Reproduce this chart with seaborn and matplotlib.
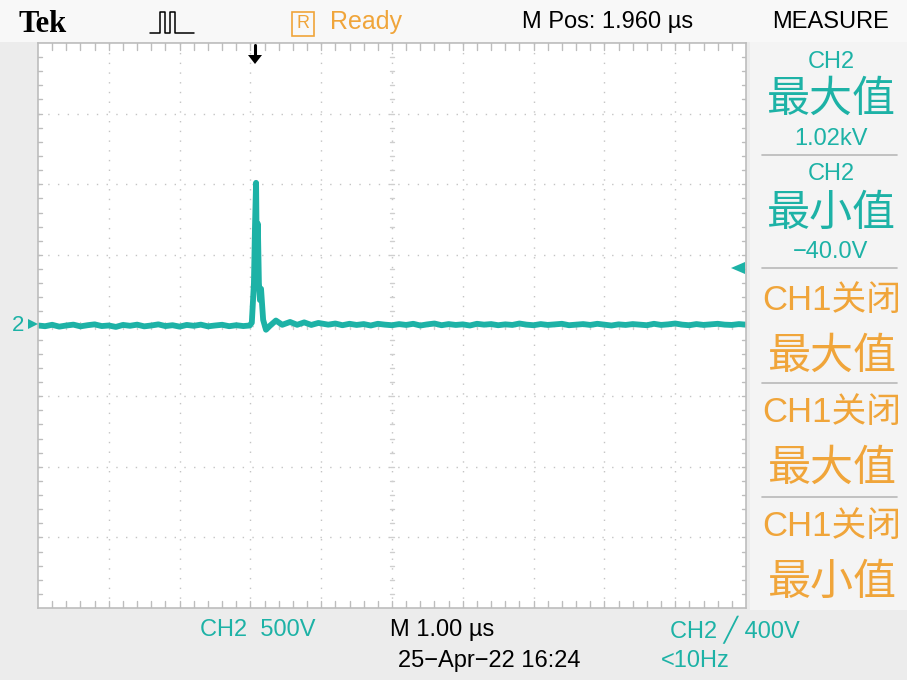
import numpy as np
import pandas as pd
import matplotlib
matplotlib.use("Agg")
import matplotlib.pyplot as plt
import seaborn as sns
from matplotlib.lines import Line2D
from matplotlib.patches import Rectangle, Polygon

# ---- data (CH2, 500 V/div, 1 us/div) ----
t_pre = [0.0, 0.1, 0.2, 0.3, 0.4, 0.5, 0.6, 0.7, 0.8, 0.9, 1.0, 1.1, 1.2, 1.3, 1.4,
         1.5, 1.6, 1.7, 1.8, 1.9, 2.0, 2.1, 2.2, 2.3, 2.4, 2.5, 2.6, 2.7, 2.8, 2.9, 2.99]
v_pre = [0, -5, 5, -8, 0, 6, -6, 2, 8, -4, 0, -10, 4, -2, 6, -6, 0, 8, -4, 2,
         -8, 4, -2, 6, -6, 0, 5, -5, 2, -4, 0]

t_spike = [3.02, 3.05, 3.065, 3.08, 3.09, 3.105, 3.12, 3.135, 3.15, 3.18, 3.22,
           3.28, 3.36, 3.45, 3.56, 3.66, 3.76, 3.86, 3.96]
v_spike = [20, 300, 700, 1010, 500, 720, 300, 180, 260, 40, -30,
           0, 35, 5, 25, 5, 22, 4, 18]

t_post = [4.1, 4.2, 4.3, 4.4, 4.5, 4.6, 4.7, 4.8, 4.9, 5.0, 5.1, 5.2, 5.3, 5.4, 5.5,
          5.6, 5.7, 5.8, 5.9, 6.0, 6.1, 6.2, 6.3, 6.4, 6.5, 6.6, 6.7, 6.8, 6.9, 7.0,
          7.1, 7.2, 7.3, 7.4, 7.5, 7.6, 7.7, 7.8, 7.9, 8.0, 8.1, 8.2, 8.3, 8.4, 8.5,
          8.6, 8.7, 8.8, 8.9, 9.0, 9.1, 9.2, 9.3, 9.4, 9.5, 9.6, 9.7, 9.8, 9.9, 10.0]
v_post = [6, 14, 2, 12, 4, 10, 0, 12, 6, 2, 10, 4, 12, 0, 8, 14, 2, 10, 4, 8,
          0, 12, 6, 10, 2, 8, 4, 14, 6, 2, 10, 4, 8, 12, 2, 6, 10, 4, 12, 6,
          0, 8, 4, 10, 6, 2, 12, 4, 8, 14, 6, 2, 10, 4, 8, 12, 6, 4, 10, 6]

df = pd.DataFrame({"t": t_pre + t_spike + t_post, "v": v_pre + v_spike + v_post})

CYAN = "#1DB2A6"
ORANGE = "#F0A53A"
W, H = 907, 680

sns.set_style("white")
plt.rcParams["font.family"] = ["Liberation Sans", "DejaVu Sans"]

fig = plt.figure(figsize=(W / 100, H / 100), dpi=100)
fig.patch.set_facecolor("#ECECEC")

def fx(x):
    return x / W

def fy(y):
    return 1 - y / H

# background bands
fig.patches.append(Rectangle((0, fy(42)), 1, 42 / H, transform=fig.transFigure,
                             facecolor="#F8F8F8", edgecolor="none", zorder=0))
fig.patches.append(Rectangle((fx(750), fy(610)), 157 / W, 568 / H, transform=fig.transFigure,
                             facecolor="#F4F4F4", edgecolor="none", zorder=0))

# screen axes: 10 x 8 divisions
ax = fig.add_axes([fx(38), fy(608), 708 / W, 565 / H])
ax.set_facecolor("white")
sns.lineplot(data=df, x="t", y="v", ax=ax, color=CYAN, lw=4.2, estimator=None, sort=False)
ax.set_xlim(0, 10)
ax.set_ylim(-2000, 2000)
ax.set_xlabel("")
ax.set_ylabel("")
ax.set_xticks([])
ax.set_yticks([])
for s in ax.spines.values():
    s.set_color("#BDBDBD")
    s.set_linewidth(1.2)

# graticule
for gx in np.arange(1, 10):
    ax.axvline(gx, color="#C4C4C4", lw=1.0, ls=(0, (1, 6)), zorder=0)
for gy in np.arange(-1500, 2000, 500):
    ax.axhline(gy, color="#C4C4C4", lw=1.0, ls=(0, (1, 6)), zorder=0)
minor_x = np.arange(0.2, 10, 0.2)
minor_y = np.arange(-1900, 2000, 100)
for mx in minor_x:
    ax.plot([mx, mx], [2000, 1950], color="#BDBDBD", lw=1, zorder=1)
    ax.plot([mx, mx], [-2000, -1950], color="#BDBDBD", lw=1, zorder=1)
    ax.plot([mx, mx], [-25, 25], color="#CFCFCF", lw=1, zorder=0)
for my in minor_y:
    ax.plot([0, 0.06], [my, my], color="#BDBDBD", lw=1, zorder=1)
    ax.plot([9.94, 10], [my, my], color="#BDBDBD", lw=1, zorder=1)
    ax.plot([4.97, 5.03], [my, my], color="#CFCFCF", lw=1, zorder=0)

def txt(x, y, s, color="black", size=15, ha="center", **kw):
    fig.text(fx(x), fy(y), s, color=color, fontsize=size, ha=ha, va="center", **kw)

cjk = ["Noto Sans CJK SC", "DejaVu Sans"]

# header
txt(43, 24, "Tek", size=22, weight="bold", family=["Liberation Serif", "DejaVu Serif"])
fig.lines.append(Line2D([fx(150), fx(160), fx(160), fx(165), fx(165), fx(170), fx(170), fx(175), fx(175), fx(194)],
                        [fy(33), fy(33), fy(12), fy(12), fy(33), fy(33), fy(12), fy(12), fy(33), fy(33)],
                        transform=fig.transFigure, color="black", lw=1.1))
fig.patches.append(Rectangle((fx(292), fy(36)), 22 / W, 24 / H, transform=fig.transFigure,
                             facecolor="none", edgecolor=ORANGE, lw=1.2))
txt(303, 23, "R", color=ORANGE, size=13)
txt(366, 22, "Ready", color=ORANGE, size=18)
txt(608, 22, "M Pos: 1.960 µs", size=17)
txt(831, 22, "MEASURE", size=17)

# trigger position arrow
fig.lines.append(Line2D([fx(255), fx(255)], [fy(45), fy(56)], transform=fig.transFigure,
                        color="black", lw=2.2))
fig.patches.append(Polygon([(fx(248), fy(55)), (fx(262), fy(55)), (fx(255), fy(64))],
                           closed=True, transform=fig.transFigure, facecolor="black", edgecolor="none"))
# trigger level arrow
fig.patches.append(Polygon([(fx(731), fy(268)), (fx(745), fy(262)), (fx(745), fy(274))],
                           closed=True, transform=fig.transFigure, facecolor=CYAN, edgecolor="none"))
# channel ground marker
txt(18, 325, "2", color=CYAN, size=16)
fig.patches.append(Polygon([(fx(38), fy(324)), (fx(28), fy(319)), (fx(28), fy(329))],
                           closed=True, transform=fig.transFigure, facecolor=CYAN, edgecolor="none"))

# measure panel
for sy in [155, 268, 383, 497]:
    fig.lines.append(Line2D([fx(762), fx(897)], [fy(sy), fy(sy)], transform=fig.transFigure,
                            color="#B8B8B8", lw=1.2))
txt(831, 62, "CH2", color=CYAN, size=17)
txt(831, 100, "最大值", color=CYAN, size=31, family=cjk)
txt(831, 139, "1.02kV", color=CYAN, size=17)
txt(831, 174, "CH2", color=CYAN, size=17)
txt(831, 214, "最小值", color=CYAN, size=31, family=cjk)
txt(831, 252, "−40.0V", color=CYAN, size=17)
for y0, word in [(300, "最大值"), (412, "最大值"), (526, "最小值")]:
    txt(832, y0, "CH1关闭", color=ORANGE, size=25, family=["Liberation Sans", "Noto Sans CJK SC"])
    txt(832, y0 + 57, word, color=ORANGE, size=31, family=cjk)

# footer
txt(258, 630, "CH2  500V", color=CYAN, size=17)
txt(442, 630, "M 1.00 µs", size=17)
txt(735, 630, "CH2 ╱ 400V", color=CYAN, size=17, family=["Liberation Sans", "DejaVu Sans"])
txt(489, 661, "25−Apr−22 16:24", size=17)
txt(695, 661, "<10Hz", color=CYAN, size=17)

fig.savefig("out.png", dpi=100, facecolor=fig.get_facecolor())
